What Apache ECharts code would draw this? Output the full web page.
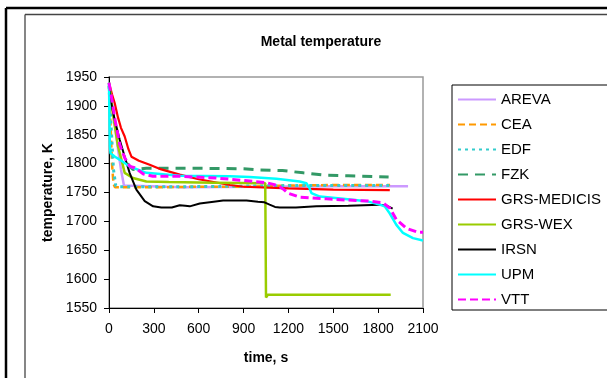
<!DOCTYPE html>
<html>
<head>
<meta charset="utf-8">
<script src="https://cdn.jsdelivr.net/npm/echarts@6/dist/echarts.min.js"></script>
<style>
  html, body { margin: 0; padding: 0; background: #fff; }
  #chart { width: 607px; height: 378px; }
</style>
</head>
<body>
<div id="chart"></div>
<script>
// Time axis ticks (s) and temperature axis range (K)
const timeTicks = [0, 300, 600, 900, 1200, 1500, 1800, 2100];
const tempMin = 1550, tempMax = 1950, tempStep = 50;

// Series names, in legend order
const seriesNames = ['AREVA', 'CEA', 'EDF', 'FZK', 'GRS-MEDICIS', 'GRS-WEX', 'IRSN', 'UPM', 'VTT'];

// [time s, temperature K] samples for each code
const AREVA = [[0,1938],[20,1905],[40,1865],[60,1825],[80,1790],[100,1762],[110,1759],[500,1759],[1000,1760],[1500,1761],[2000,1761]];
const CEA = [[0,1935],[10,1870],[20,1800],[30,1765],[40,1759],[300,1759],[600,1760],[900,1760],[1200,1762],[1500,1763],[1880,1763]];
const EDF = [[0,1935],[15,1860],[30,1790],[45,1762],[60,1760],[500,1760],[900,1761],[1200,1762],[1500,1762],[1880,1762]];
const FZK = [[120,1800],[160,1790],[250,1792],[600,1792],[900,1791],[1000,1789],[1160,1788],[1300,1784],[1450,1780],[1600,1779],[1870,1777]];
const GRS_MEDICIS = [[0,1940],[20,1920],[38,1905],[60,1880],[80,1862],[105,1847],[130,1825],[150,1812],[200,1805],[272,1798],[350,1790],[473,1781],[600,1773],[809,1763],[900,1760],[1200,1757],[1500,1755],[1878,1754]];
const GRS_WEX = [[0,1940],[30,1880],[60,1830],[90,1800],[105,1784],[160,1775],[250,1769],[400,1768],[700,1767],[1045,1766],[1050,1568],[1062,1573],[1500,1573],[1884,1573]];
const IRSN = [[0,1935],[15,1905],[38,1876],[72,1841],[105,1812],[138,1784],[183,1755],[239,1735],[295,1726],[350,1724],[420,1724],[473,1728],[510,1727],[540,1726],[607,1731],[700,1734],[763,1736],[830,1736],[920,1736],[996,1734],[1040,1733],[1074,1729],[1110,1725],[1142,1724],[1250,1724],[1387,1726],[1600,1727],[1810,1729],[1860,1727],[1897,1722]];
const UPM = [[0,1940],[3,1880],[6,1830],[10,1818],[40,1812],[71,1807],[138,1795],[250,1784],[473,1779],[807,1778],[941,1777],[1119,1774],[1275,1769],[1320,1766],[1340,1758],[1354,1749],[1410,1743],[1566,1739],[1722,1735],[1810,1729],[1844,1726],[1877,1714],[1922,1694],[1966,1680],[2033,1671],[2100,1667]];
const VTT = [[0,1940],[20,1910],[38,1879],[72,1833],[105,1810],[116,1807],[140,1795],[172,1793],[230,1782],[293,1778],[473,1778],[718,1775],[894,1771],[1052,1767],[1100,1764],[1142,1760],[1170,1755],[1196,1749],[1275,1742],[1454,1739],[1588,1737],[1744,1735],[1833,1732],[1878,1723],[1922,1703],[1989,1688],[2067,1681],[2100,1681]];

const seriesData = [AREVA, CEA, EDF, FZK, GRS_MEDICIS, GRS_WEX, IRSN, UPM, VTT];

// Line appearance per series
const styles = [
  { color: '#CC99FF', width: 2.5, type: 'solid' },
  { color: '#FF9900', width: 2.5, type: [7, 4] },
  { color: '#33CCCC', width: 3, type: [3, 4] },
  { color: '#339966', width: 3, type: [10, 7] },
  { color: '#FF0000', width: 2.2, type: 'solid' },
  { color: '#99CC00', width: 2.5, type: 'solid' },
  { color: '#000000', width: 2, type: 'solid' },
  { color: '#00FFFF', width: 2.5, type: 'solid' },
  { color: '#FF00FF', width: 3, type: [8, 4] }
];

const font = 'Liberation Sans, Arial, sans-serif';
const plain = v => String(v);
const chart = echarts.init(document.getElementById('chart'), null, { renderer: 'canvas' });

chart.setOption({
  backgroundColor: '#ffffff',
  animation: false,
  title: {
    text: 'Metal temperature',
    left: 316, top: 30,
    textAlign: 'center',
    textStyle: { fontFamily: font, fontSize: 14, fontWeight: 'bold', color: '#000' }
  },
  graphic: [
    // page and chart frames
    { type: 'line', shape: { x1: 6, y1: 8, x2: 607, y2: 8 }, style: { stroke: '#000', lineWidth: 2.5 } },
    { type: 'line', shape: { x1: 6, y1: 8, x2: 6, y2: 378 }, style: { stroke: '#000', lineWidth: 2.5 } },
    { type: 'line', shape: { x1: 25, y1: 14.5, x2: 607, y2: 14.5 }, style: { stroke: '#444', lineWidth: 1.3 } },
    { type: 'line', shape: { x1: 25, y1: 14.5, x2: 25, y2: 378 }, style: { stroke: '#444', lineWidth: 1.3 } }
  ],
  legend: {
    data: seriesNames,
    orient: 'vertical',
    left: 452, top: 85,
    itemWidth: 38, itemHeight: 14, itemGap: 10,
    padding: [7, 40, 3, 5],
    borderColor: '#000', borderWidth: 1,
    itemStyle: { opacity: 0 },
    textStyle: { fontFamily: font, fontSize: 15, color: '#000' }
  },
  grid: {
    left: 109, right: 184, top: 77, bottom: 70,
    show: true, borderColor: '#999', borderWidth: 1.5, backgroundColor: '#fff'
  },
  xAxis: {
    type: 'value',
    min: timeTicks[0], max: timeTicks[timeTicks.length - 1], interval: 300,
    name: 'time, s', nameLocation: 'middle', nameGap: 43,
    nameTextStyle: { fontFamily: font, fontSize: 14, fontWeight: 'bold', color: '#000' },
    axisLine: { show: true, lineStyle: { color: '#000', width: 1 } },
    axisTick: { show: true, length: 5, lineStyle: { color: '#000' } },
    axisLabel: { fontFamily: font, fontSize: 14, color: '#000', margin: 14, formatter: plain },
    splitLine: { show: false }
  },
  yAxis: {
    type: 'value',
    min: tempMin, max: tempMax, interval: tempStep,
    name: 'temperature, K', nameLocation: 'middle', nameGap: 52,
    nameTextStyle: { fontFamily: font, fontSize: 14, fontWeight: 'bold', color: '#000' },
    axisLine: { show: true, lineStyle: { color: '#000', width: 1 } },
    axisTick: { show: true, length: 5, lineStyle: { color: '#000' } },
    axisLabel: { fontFamily: font, fontSize: 14, color: '#000', margin: 12, formatter: plain },
    splitLine: { show: false }
  },
  series: seriesNames.map((name, i) => ({
    name: name,
    type: 'line',
    data: seriesData[i],
    showSymbol: false,
    symbol: 'none',
    smooth: false,
    color: styles[i].color,
    lineStyle: { color: styles[i].color, width: styles[i].width, type: styles[i].type },
    z: 2 + i
  }))
});
</script>
</body>
</html>
